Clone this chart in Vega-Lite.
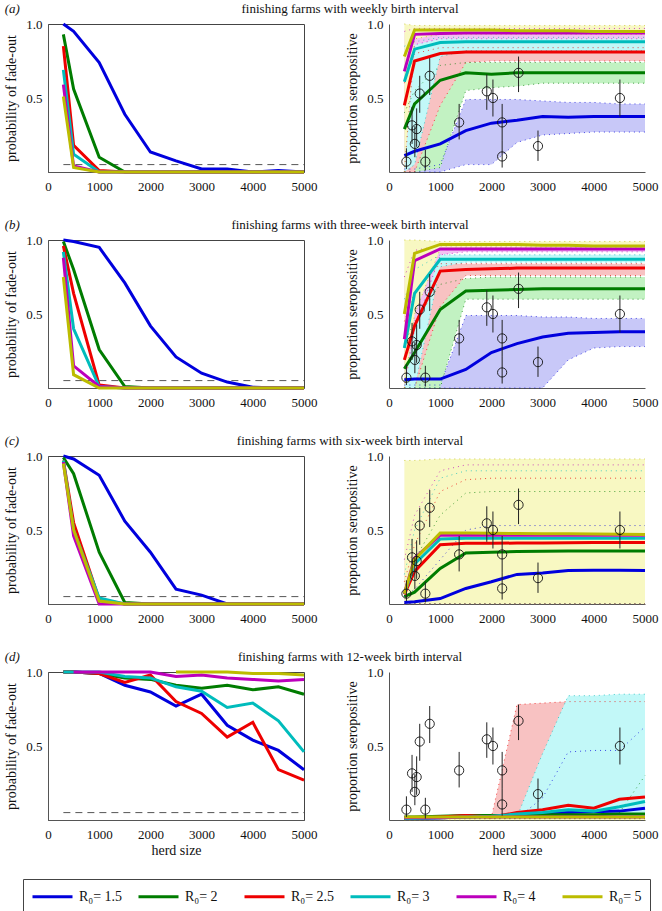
{
"$schema": "https://vega.github.io/schema/vega-lite/v6.json",
"padding": {"left": 4, "top": 2, "right": 5, "bottom": 4},
"config": {
  "font": "Liberation Serif",
  "view": {"stroke": "#444", "strokeWidth": 1},
  "axis": {"labelFont": "Liberation Serif", "labelFontSize": 13, "labelColor": "#111", "titleFont": "Liberation Serif", "titleFontSize": 14, "titleFontWeight": "normal", "titleColor": "#111", "grid": false, "ticks": false, "domainColor": "#555", "labelFlush": false, "labelPadding": 6, "titlePadding": 7},
  "axisX": {"labelPadding": 8, "titlePadding": 2},
  "title": {"font": "Liberation Serif", "fontSize": 13, "fontWeight": "normal", "color": "#111", "offset": 2},
  "legend": {"orient": "none", "direction": "horizontal", "strokeColor": "#444", "padding": 8, "symbolType": "M-2.5,0L2.5,0", "symbolStrokeWidth": 3, "symbolSize": 256, "symbolOffset": 12, "labelFont": "Liberation Serif", "labelFontSize": 14, "labelColor": "#111", "columnPadding": 9, "gridAlign": "all", "labelOffset": 17}
},
"datasets": {
"obs": [
{"x":340,"y":0.07,"lo":0.02,"hi":0.16},
{"x":450,"y":0.315,"lo":0.19,"hi":0.44},
{"x":505,"y":0.19,"lo":0.1,"hi":0.31},
{"x":540,"y":0.29,"lo":0.17,"hi":0.43},
{"x":600,"y":0.53,"lo":0.4,"hi":0.65},
{"x":710,"y":0.07,"lo":0.01,"hi":0.15},
{"x":795,"y":0.65,"lo":0.52,"hi":0.77},
{"x":1370,"y":0.335,"lo":0.22,"hi":0.46},
{"x":1910,"y":0.545,"lo":0.42,"hi":0.66},
{"x":2030,"y":0.5,"lo":0.375,"hi":0.625},
{"x":2210,"y":0.335,"lo":0.21,"hi":0.46},
{"x":2210,"y":0.105,"lo":0.03,"hi":0.21},
{"x":2530,"y":0.67,"lo":0.54,"hi":0.78},
{"x":2910,"y":0.175,"lo":0.075,"hi":0.28},
{"x":4510,"y":0.5,"lo":0.375,"hi":0.625}
],
"fade": [
{"r":"a","k":"1.5","x":300,"y":1},{"r":"a","k":"1.5","x":500,"y":0.95},{"r":"a","k":"1.5","x":1000,"y":0.74},{"r":"a","k":"1.5","x":1500,"y":0.39},{"r":"a","k":"1.5","x":2000,"y":0.135},{"r":"a","k":"1.5","x":2500,"y":0.075},{"r":"a","k":"1.5","x":3000,"y":0.02},{"r":"a","k":"1.5","x":3500,"y":0.02},{"r":"a","k":"1.5","x":4000,"y":0},{"r":"a","k":"1.5","x":4500,"y":0.01},{"r":"a","k":"1.5","x":5000,"y":0},
{"r":"a","k":"2","x":300,"y":0.93},{"r":"a","k":"2","x":500,"y":0.56},{"r":"a","k":"2","x":1000,"y":0.1},{"r":"a","k":"2","x":1500,"y":0},{"r":"a","k":"2","x":2000,"y":0},{"r":"a","k":"2","x":2500,"y":0},{"r":"a","k":"2","x":3000,"y":0},{"r":"a","k":"2","x":3500,"y":0},{"r":"a","k":"2","x":4000,"y":0},{"r":"a","k":"2","x":4500,"y":0},{"r":"a","k":"2","x":5000,"y":0},
{"r":"a","k":"2.5","x":300,"y":0.85},{"r":"a","k":"2.5","x":500,"y":0.18},{"r":"a","k":"2.5","x":1000,"y":0.01},{"r":"a","k":"2.5","x":1500,"y":0},{"r":"a","k":"2.5","x":2000,"y":0},{"r":"a","k":"2.5","x":2500,"y":0},{"r":"a","k":"2.5","x":3000,"y":0},{"r":"a","k":"2.5","x":3500,"y":0},{"r":"a","k":"2.5","x":4000,"y":0},{"r":"a","k":"2.5","x":4500,"y":0},{"r":"a","k":"2.5","x":5000,"y":0},
{"r":"a","k":"3","x":300,"y":0.69},{"r":"a","k":"3","x":500,"y":0.12},{"r":"a","k":"3","x":1000,"y":0},{"r":"a","k":"3","x":1500,"y":0},{"r":"a","k":"3","x":2000,"y":0},{"r":"a","k":"3","x":2500,"y":0},{"r":"a","k":"3","x":3000,"y":0},{"r":"a","k":"3","x":3500,"y":0},{"r":"a","k":"3","x":4000,"y":0},{"r":"a","k":"3","x":4500,"y":0},{"r":"a","k":"3","x":5000,"y":0},
{"r":"a","k":"4","x":300,"y":0.59},{"r":"a","k":"4","x":500,"y":0.04},{"r":"a","k":"4","x":1000,"y":0},{"r":"a","k":"4","x":1500,"y":0},{"r":"a","k":"4","x":2000,"y":0},{"r":"a","k":"4","x":2500,"y":0},{"r":"a","k":"4","x":3000,"y":0},{"r":"a","k":"4","x":3500,"y":0},{"r":"a","k":"4","x":4000,"y":0},{"r":"a","k":"4","x":4500,"y":0},{"r":"a","k":"4","x":5000,"y":0},
{"r":"a","k":"5","x":300,"y":0.51},{"r":"a","k":"5","x":500,"y":0.03},{"r":"a","k":"5","x":1000,"y":0},{"r":"a","k":"5","x":1500,"y":0},{"r":"a","k":"5","x":2000,"y":0},{"r":"a","k":"5","x":2500,"y":0},{"r":"a","k":"5","x":3000,"y":0},{"r":"a","k":"5","x":3500,"y":0},{"r":"a","k":"5","x":4000,"y":0},{"r":"a","k":"5","x":4500,"y":0},{"r":"a","k":"5","x":5000,"y":0},
{"r":"b","k":"1.5","x":300,"y":1},{"r":"b","k":"1.5","x":500,"y":0.99},{"r":"b","k":"1.5","x":1000,"y":0.95},{"r":"b","k":"1.5","x":1500,"y":0.71},{"r":"b","k":"1.5","x":2000,"y":0.42},{"r":"b","k":"1.5","x":2500,"y":0.21},{"r":"b","k":"1.5","x":3000,"y":0.1},{"r":"b","k":"1.5","x":3500,"y":0.04},{"r":"b","k":"1.5","x":4000,"y":0.005},{"r":"b","k":"1.5","x":4500,"y":0},{"r":"b","k":"1.5","x":5000,"y":0},
{"r":"b","k":"2","x":300,"y":0.99},{"r":"b","k":"2","x":500,"y":0.8},{"r":"b","k":"2","x":1000,"y":0.26},{"r":"b","k":"2","x":1500,"y":0.01},{"r":"b","k":"2","x":2000,"y":0},{"r":"b","k":"2","x":2500,"y":0},{"r":"b","k":"2","x":3000,"y":0},{"r":"b","k":"2","x":3500,"y":0},{"r":"b","k":"2","x":4000,"y":0},{"r":"b","k":"2","x":4500,"y":0},{"r":"b","k":"2","x":5000,"y":0},
{"r":"b","k":"2.5","x":300,"y":0.96},{"r":"b","k":"2.5","x":500,"y":0.64},{"r":"b","k":"2.5","x":1000,"y":0.02},{"r":"b","k":"2.5","x":1500,"y":0},{"r":"b","k":"2.5","x":2000,"y":0},{"r":"b","k":"2.5","x":2500,"y":0},{"r":"b","k":"2.5","x":3000,"y":0},{"r":"b","k":"2.5","x":3500,"y":0},{"r":"b","k":"2.5","x":4000,"y":0},{"r":"b","k":"2.5","x":4500,"y":0},{"r":"b","k":"2.5","x":5000,"y":0},
{"r":"b","k":"3","x":300,"y":0.92},{"r":"b","k":"3","x":500,"y":0.4},{"r":"b","k":"3","x":1000,"y":0.01},{"r":"b","k":"3","x":1500,"y":0},{"r":"b","k":"3","x":2000,"y":0},{"r":"b","k":"3","x":2500,"y":0},{"r":"b","k":"3","x":3000,"y":0},{"r":"b","k":"3","x":3500,"y":0},{"r":"b","k":"3","x":4000,"y":0},{"r":"b","k":"3","x":4500,"y":0},{"r":"b","k":"3","x":5000,"y":0},
{"r":"b","k":"4","x":300,"y":0.88},{"r":"b","k":"4","x":500,"y":0.15},{"r":"b","k":"4","x":1000,"y":0.01},{"r":"b","k":"4","x":1500,"y":0},{"r":"b","k":"4","x":2000,"y":0},{"r":"b","k":"4","x":2500,"y":0},{"r":"b","k":"4","x":3000,"y":0},{"r":"b","k":"4","x":3500,"y":0},{"r":"b","k":"4","x":4000,"y":0},{"r":"b","k":"4","x":4500,"y":0},{"r":"b","k":"4","x":5000,"y":0},
{"r":"b","k":"5","x":300,"y":0.75},{"r":"b","k":"5","x":500,"y":0.09},{"r":"b","k":"5","x":1000,"y":0},{"r":"b","k":"5","x":1500,"y":0},{"r":"b","k":"5","x":2000,"y":0},{"r":"b","k":"5","x":2500,"y":0},{"r":"b","k":"5","x":3000,"y":0},{"r":"b","k":"5","x":3500,"y":0},{"r":"b","k":"5","x":4000,"y":0},{"r":"b","k":"5","x":4500,"y":0},{"r":"b","k":"5","x":5000,"y":0},
{"r":"c","k":"1.5","x":300,"y":1},{"r":"c","k":"1.5","x":500,"y":0.98},{"r":"c","k":"1.5","x":1000,"y":0.87},{"r":"c","k":"1.5","x":1500,"y":0.56},{"r":"c","k":"1.5","x":2000,"y":0.35},{"r":"c","k":"1.5","x":2500,"y":0.1},{"r":"c","k":"1.5","x":3000,"y":0.06},{"r":"c","k":"1.5","x":3500,"y":0},{"r":"c","k":"1.5","x":4000,"y":0},{"r":"c","k":"1.5","x":4500,"y":0},{"r":"c","k":"1.5","x":5000,"y":0},
{"r":"c","k":"2","x":300,"y":0.99},{"r":"c","k":"2","x":500,"y":0.88},{"r":"c","k":"2","x":1000,"y":0.35},{"r":"c","k":"2","x":1500,"y":0.01},{"r":"c","k":"2","x":2000,"y":0},{"r":"c","k":"2","x":2500,"y":0},{"r":"c","k":"2","x":3000,"y":0},{"r":"c","k":"2","x":3500,"y":0},{"r":"c","k":"2","x":4000,"y":0},{"r":"c","k":"2","x":4500,"y":0},{"r":"c","k":"2","x":5000,"y":0},
{"r":"c","k":"2.5","x":300,"y":0.97},{"r":"c","k":"2.5","x":500,"y":0.55},{"r":"c","k":"2.5","x":1000,"y":0.03},{"r":"c","k":"2.5","x":1500,"y":0},{"r":"c","k":"2.5","x":2000,"y":0},{"r":"c","k":"2.5","x":2500,"y":0},{"r":"c","k":"2.5","x":3000,"y":0},{"r":"c","k":"2.5","x":3500,"y":0},{"r":"c","k":"2.5","x":4000,"y":0},{"r":"c","k":"2.5","x":4500,"y":0},{"r":"c","k":"2.5","x":5000,"y":0},
{"r":"c","k":"3","x":300,"y":0.97},{"r":"c","k":"3","x":500,"y":0.5},{"r":"c","k":"3","x":1000,"y":0.04},{"r":"c","k":"3","x":1500,"y":0},{"r":"c","k":"3","x":2000,"y":0},{"r":"c","k":"3","x":2500,"y":0},{"r":"c","k":"3","x":3000,"y":0},{"r":"c","k":"3","x":3500,"y":0},{"r":"c","k":"3","x":4000,"y":0},{"r":"c","k":"3","x":4500,"y":0},{"r":"c","k":"3","x":5000,"y":0},
{"r":"c","k":"4","x":300,"y":0.96},{"r":"c","k":"4","x":500,"y":0.46},{"r":"c","k":"4","x":1000,"y":0},{"r":"c","k":"4","x":1500,"y":0},{"r":"c","k":"4","x":2000,"y":0},{"r":"c","k":"4","x":2500,"y":0},{"r":"c","k":"4","x":3000,"y":0},{"r":"c","k":"4","x":3500,"y":0},{"r":"c","k":"4","x":4000,"y":0},{"r":"c","k":"4","x":4500,"y":0},{"r":"c","k":"4","x":5000,"y":0},
{"r":"c","k":"5","x":300,"y":0.95},{"r":"c","k":"5","x":500,"y":0.5},{"r":"c","k":"5","x":1000,"y":0.02},{"r":"c","k":"5","x":1500,"y":0},{"r":"c","k":"5","x":2000,"y":0},{"r":"c","k":"5","x":2500,"y":0},{"r":"c","k":"5","x":3000,"y":0},{"r":"c","k":"5","x":3500,"y":0},{"r":"c","k":"5","x":4000,"y":0},{"r":"c","k":"5","x":4500,"y":0},{"r":"c","k":"5","x":5000,"y":0},
{"r":"d","k":"1.5","x":300,"y":1},{"r":"d","k":"1.5","x":500,"y":1},{"r":"d","k":"1.5","x":1000,"y":0.99},{"r":"d","k":"1.5","x":1500,"y":0.91},{"r":"d","k":"1.5","x":2000,"y":0.865},{"r":"d","k":"1.5","x":2500,"y":0.77},{"r":"d","k":"1.5","x":3000,"y":0.85},{"r":"d","k":"1.5","x":3500,"y":0.64},{"r":"d","k":"1.5","x":4000,"y":0.54},{"r":"d","k":"1.5","x":4500,"y":0.47},{"r":"d","k":"1.5","x":5000,"y":0.34},
{"r":"d","k":"2","x":300,"y":1},{"r":"d","k":"2","x":500,"y":1},{"r":"d","k":"2","x":1000,"y":0.99},{"r":"d","k":"2","x":1500,"y":0.96},{"r":"d","k":"2","x":2000,"y":0.95},{"r":"d","k":"2","x":2500,"y":0.91},{"r":"d","k":"2","x":3000,"y":0.89},{"r":"d","k":"2","x":3500,"y":0.91},{"r":"d","k":"2","x":4000,"y":0.88},{"r":"d","k":"2","x":4500,"y":0.9},{"r":"d","k":"2","x":5000,"y":0.85},
{"r":"d","k":"2.5","x":300,"y":1},{"r":"d","k":"2.5","x":500,"y":1},{"r":"d","k":"2.5","x":1000,"y":0.99},{"r":"d","k":"2.5","x":1500,"y":0.93},{"r":"d","k":"2.5","x":2000,"y":0.98},{"r":"d","k":"2.5","x":2500,"y":0.8},{"r":"d","k":"2.5","x":3000,"y":0.72},{"r":"d","k":"2.5","x":3500,"y":0.56},{"r":"d","k":"2.5","x":4000,"y":0.66},{"r":"d","k":"2.5","x":4500,"y":0.34},{"r":"d","k":"2.5","x":5000,"y":0.27},
{"r":"d","k":"3","x":300,"y":1},{"r":"d","k":"3","x":500,"y":1},{"r":"d","k":"3","x":1000,"y":1},{"r":"d","k":"3","x":1500,"y":0.97},{"r":"d","k":"3","x":2000,"y":0.96},{"r":"d","k":"3","x":2500,"y":0.9},{"r":"d","k":"3","x":3000,"y":0.87},{"r":"d","k":"3","x":3500,"y":0.76},{"r":"d","k":"3","x":4000,"y":0.79},{"r":"d","k":"3","x":4500,"y":0.67},{"r":"d","k":"3","x":5000,"y":0.46},
{"r":"d","k":"4","x":500,"y":1},{"r":"d","k":"4","x":1000,"y":1},{"r":"d","k":"4","x":1500,"y":1},{"r":"d","k":"4","x":2000,"y":1},{"r":"d","k":"4","x":2500,"y":0.97},{"r":"d","k":"4","x":3000,"y":0.98},{"r":"d","k":"4","x":3500,"y":0.96},{"r":"d","k":"4","x":4000,"y":0.95},{"r":"d","k":"4","x":4500,"y":0.94},{"r":"d","k":"4","x":5000,"y":0.95},
{"r":"d","k":"5","x":2500,"y":1},{"r":"d","k":"5","x":3000,"y":1},{"r":"d","k":"5","x":3500,"y":1},{"r":"d","k":"5","x":4000,"y":0.99},{"r":"d","k":"5","x":4500,"y":0.99},{"r":"d","k":"5","x":5000,"y":0.98}
],
"sero": [
{"r":"a","k":"1.5","x":300,"y":0.11},{"r":"a","k":"1.5","x":500,"y":0.14},{"r":"a","k":"1.5","x":1000,"y":0.19},{"r":"a","k":"1.5","x":1500,"y":0.28},{"r":"a","k":"1.5","x":2000,"y":0.33},{"r":"a","k":"1.5","x":2500,"y":0.35},{"r":"a","k":"1.5","x":3000,"y":0.375},{"r":"a","k":"1.5","x":3500,"y":0.37},{"r":"a","k":"1.5","x":4000,"y":0.375},{"r":"a","k":"1.5","x":4500,"y":0.375},{"r":"a","k":"1.5","x":5000,"y":0.375},
{"r":"a","k":"2","x":300,"y":0.29},{"r":"a","k":"2","x":500,"y":0.46},{"r":"a","k":"2","x":1000,"y":0.62},{"r":"a","k":"2","x":1500,"y":0.67},{"r":"a","k":"2","x":2000,"y":0.66},{"r":"a","k":"2","x":2500,"y":0.67},{"r":"a","k":"2","x":3000,"y":0.67},{"r":"a","k":"2","x":3500,"y":0.67},{"r":"a","k":"2","x":4000,"y":0.67},{"r":"a","k":"2","x":4500,"y":0.67},{"r":"a","k":"2","x":5000,"y":0.67},
{"r":"a","k":"2.5","x":300,"y":0.45},{"r":"a","k":"2.5","x":500,"y":0.75},{"r":"a","k":"2.5","x":1000,"y":0.8},{"r":"a","k":"2.5","x":1500,"y":0.81},{"r":"a","k":"2.5","x":2000,"y":0.81},{"r":"a","k":"2.5","x":2500,"y":0.81},{"r":"a","k":"2.5","x":3000,"y":0.81},{"r":"a","k":"2.5","x":3500,"y":0.81},{"r":"a","k":"2.5","x":4000,"y":0.81},{"r":"a","k":"2.5","x":4500,"y":0.81},{"r":"a","k":"2.5","x":5000,"y":0.81},
{"r":"a","k":"3","x":300,"y":0.61},{"r":"a","k":"3","x":500,"y":0.83},{"r":"a","k":"3","x":1000,"y":0.875},{"r":"a","k":"3","x":1500,"y":0.88},{"r":"a","k":"3","x":2000,"y":0.88},{"r":"a","k":"3","x":2500,"y":0.88},{"r":"a","k":"3","x":3000,"y":0.88},{"r":"a","k":"3","x":3500,"y":0.88},{"r":"a","k":"3","x":4000,"y":0.88},{"r":"a","k":"3","x":4500,"y":0.88},{"r":"a","k":"3","x":5000,"y":0.88},
{"r":"a","k":"4","x":300,"y":0.68},{"r":"a","k":"4","x":500,"y":0.93},{"r":"a","k":"4","x":1000,"y":0.935},{"r":"a","k":"4","x":1500,"y":0.94},{"r":"a","k":"4","x":2000,"y":0.94},{"r":"a","k":"4","x":2500,"y":0.94},{"r":"a","k":"4","x":3000,"y":0.94},{"r":"a","k":"4","x":3500,"y":0.94},{"r":"a","k":"4","x":4000,"y":0.94},{"r":"a","k":"4","x":4500,"y":0.94},{"r":"a","k":"4","x":5000,"y":0.94},
{"r":"a","k":"5","x":300,"y":0.78},{"r":"a","k":"5","x":500,"y":0.96},{"r":"a","k":"5","x":1000,"y":0.96},{"r":"a","k":"5","x":1500,"y":0.96},{"r":"a","k":"5","x":2000,"y":0.96},{"r":"a","k":"5","x":2500,"y":0.955},{"r":"a","k":"5","x":3000,"y":0.955},{"r":"a","k":"5","x":3500,"y":0.955},{"r":"a","k":"5","x":4000,"y":0.95},{"r":"a","k":"5","x":4500,"y":0.95},{"r":"a","k":"5","x":5000,"y":0.95},
{"r":"b","k":"1.5","x":300,"y":0.055},{"r":"b","k":"1.5","x":500,"y":0.06},{"r":"b","k":"1.5","x":1000,"y":0.06},{"r":"b","k":"1.5","x":1500,"y":0.125},{"r":"b","k":"1.5","x":2000,"y":0.24},{"r":"b","k":"1.5","x":2500,"y":0.3},{"r":"b","k":"1.5","x":3000,"y":0.345},{"r":"b","k":"1.5","x":3500,"y":0.37},{"r":"b","k":"1.5","x":4000,"y":0.375},{"r":"b","k":"1.5","x":4500,"y":0.38},{"r":"b","k":"1.5","x":5000,"y":0.38},
{"r":"b","k":"2","x":300,"y":0.13},{"r":"b","k":"2","x":500,"y":0.24},{"r":"b","k":"2","x":1000,"y":0.53},{"r":"b","k":"2","x":1500,"y":0.655},{"r":"b","k":"2","x":2000,"y":0.66},{"r":"b","k":"2","x":2500,"y":0.665},{"r":"b","k":"2","x":3000,"y":0.67},{"r":"b","k":"2","x":3500,"y":0.67},{"r":"b","k":"2","x":4000,"y":0.67},{"r":"b","k":"2","x":4500,"y":0.67},{"r":"b","k":"2","x":5000,"y":0.67},
{"r":"b","k":"2.5","x":300,"y":0.19},{"r":"b","k":"2.5","x":500,"y":0.42},{"r":"b","k":"2.5","x":1000,"y":0.79},{"r":"b","k":"2.5","x":1500,"y":0.8},{"r":"b","k":"2.5","x":2000,"y":0.805},{"r":"b","k":"2.5","x":2500,"y":0.81},{"r":"b","k":"2.5","x":3000,"y":0.81},{"r":"b","k":"2.5","x":3500,"y":0.81},{"r":"b","k":"2.5","x":4000,"y":0.81},{"r":"b","k":"2.5","x":4500,"y":0.81},{"r":"b","k":"2.5","x":5000,"y":0.81},
{"r":"b","k":"3","x":300,"y":0.27},{"r":"b","k":"3","x":500,"y":0.64},{"r":"b","k":"3","x":1000,"y":0.87},{"r":"b","k":"3","x":1500,"y":0.87},{"r":"b","k":"3","x":2000,"y":0.87},{"r":"b","k":"3","x":2500,"y":0.87},{"r":"b","k":"3","x":3000,"y":0.87},{"r":"b","k":"3","x":3500,"y":0.87},{"r":"b","k":"3","x":4000,"y":0.87},{"r":"b","k":"3","x":4500,"y":0.87},{"r":"b","k":"3","x":5000,"y":0.87},
{"r":"b","k":"4","x":300,"y":0.33},{"r":"b","k":"4","x":500,"y":0.86},{"r":"b","k":"4","x":1000,"y":0.94},{"r":"b","k":"4","x":1500,"y":0.94},{"r":"b","k":"4","x":2000,"y":0.94},{"r":"b","k":"4","x":2500,"y":0.94},{"r":"b","k":"4","x":3000,"y":0.94},{"r":"b","k":"4","x":3500,"y":0.94},{"r":"b","k":"4","x":4000,"y":0.94},{"r":"b","k":"4","x":4500,"y":0.94},{"r":"b","k":"4","x":5000,"y":0.94},
{"r":"b","k":"5","x":300,"y":0.5},{"r":"b","k":"5","x":500,"y":0.91},{"r":"b","k":"5","x":1000,"y":0.97},{"r":"b","k":"5","x":1500,"y":0.97},{"r":"b","k":"5","x":2000,"y":0.97},{"r":"b","k":"5","x":2500,"y":0.97},{"r":"b","k":"5","x":3000,"y":0.965},{"r":"b","k":"5","x":3500,"y":0.965},{"r":"b","k":"5","x":4000,"y":0.96},{"r":"b","k":"5","x":4500,"y":0.96},{"r":"b","k":"5","x":5000,"y":0.96},
{"r":"c","k":"1.5","x":300,"y":0.01},{"r":"c","k":"1.5","x":500,"y":0.015},{"r":"c","k":"1.5","x":1000,"y":0.037},{"r":"c","k":"1.5","x":1500,"y":0.105},{"r":"c","k":"1.5","x":2000,"y":0.15},{"r":"c","k":"1.5","x":2500,"y":0.2},{"r":"c","k":"1.5","x":3000,"y":0.21},{"r":"c","k":"1.5","x":3500,"y":0.227},{"r":"c","k":"1.5","x":4000,"y":0.228},{"r":"c","k":"1.5","x":4500,"y":0.228},{"r":"c","k":"1.5","x":5000,"y":0.227},
{"r":"c","k":"2","x":300,"y":0.05},{"r":"c","k":"2","x":500,"y":0.08},{"r":"c","k":"2","x":1000,"y":0.24},{"r":"c","k":"2","x":1500,"y":0.345},{"r":"c","k":"2","x":2000,"y":0.35},{"r":"c","k":"2","x":2500,"y":0.355},{"r":"c","k":"2","x":3000,"y":0.357},{"r":"c","k":"2","x":3500,"y":0.358},{"r":"c","k":"2","x":4000,"y":0.358},{"r":"c","k":"2","x":4500,"y":0.358},{"r":"c","k":"2","x":5000,"y":0.358},
{"r":"c","k":"2.5","x":300,"y":0.065},{"r":"c","k":"2.5","x":500,"y":0.22},{"r":"c","k":"2.5","x":1000,"y":0.4},{"r":"c","k":"2.5","x":1500,"y":0.41},{"r":"c","k":"2.5","x":2000,"y":0.41},{"r":"c","k":"2.5","x":2500,"y":0.412},{"r":"c","k":"2.5","x":3000,"y":0.413},{"r":"c","k":"2.5","x":3500,"y":0.414},{"r":"c","k":"2.5","x":4000,"y":0.415},{"r":"c","k":"2.5","x":4500,"y":0.415},{"r":"c","k":"2.5","x":5000,"y":0.415},
{"r":"c","k":"3","x":300,"y":0.07},{"r":"c","k":"3","x":500,"y":0.27},{"r":"c","k":"3","x":1000,"y":0.44},{"r":"c","k":"3","x":1500,"y":0.445},{"r":"c","k":"3","x":2000,"y":0.445},{"r":"c","k":"3","x":2500,"y":0.445},{"r":"c","k":"3","x":3000,"y":0.445},{"r":"c","k":"3","x":3500,"y":0.445},{"r":"c","k":"3","x":4000,"y":0.445},{"r":"c","k":"3","x":4500,"y":0.445},{"r":"c","k":"3","x":5000,"y":0.445},
{"r":"c","k":"4","x":300,"y":0.07},{"r":"c","k":"4","x":500,"y":0.31},{"r":"c","k":"4","x":1000,"y":0.465},{"r":"c","k":"4","x":1500,"y":0.465},{"r":"c","k":"4","x":2000,"y":0.465},{"r":"c","k":"4","x":2500,"y":0.465},{"r":"c","k":"4","x":3000,"y":0.465},{"r":"c","k":"4","x":3500,"y":0.465},{"r":"c","k":"4","x":4000,"y":0.465},{"r":"c","k":"4","x":4500,"y":0.465},{"r":"c","k":"4","x":5000,"y":0.465},
{"r":"c","k":"5","x":300,"y":0.07},{"r":"c","k":"5","x":500,"y":0.3},{"r":"c","k":"5","x":1000,"y":0.48},{"r":"c","k":"5","x":1500,"y":0.48},{"r":"c","k":"5","x":2000,"y":0.478},{"r":"c","k":"5","x":2500,"y":0.476},{"r":"c","k":"5","x":3000,"y":0.475},{"r":"c","k":"5","x":3500,"y":0.474},{"r":"c","k":"5","x":4000,"y":0.473},{"r":"c","k":"5","x":4500,"y":0.472},{"r":"c","k":"5","x":5000,"y":0.47},
{"r":"d","k":"1.5","x":300,"y":0.01},{"r":"d","k":"1.5","x":500,"y":0.01},{"r":"d","k":"1.5","x":1000,"y":0.015},{"r":"d","k":"1.5","x":1500,"y":0.02},{"r":"d","k":"1.5","x":2000,"y":0.025},{"r":"d","k":"1.5","x":2500,"y":0.03},{"r":"d","k":"1.5","x":3000,"y":0.04},{"r":"d","k":"1.5","x":3500,"y":0.05},{"r":"d","k":"1.5","x":4000,"y":0.055},{"r":"d","k":"1.5","x":4500,"y":0.06},{"r":"d","k":"1.5","x":5000,"y":0.08},
{"r":"d","k":"2","x":300,"y":0.02},{"r":"d","k":"2","x":500,"y":0.02},{"r":"d","k":"2","x":1000,"y":0.025},{"r":"d","k":"2","x":1500,"y":0.03},{"r":"d","k":"2","x":2000,"y":0.03},{"r":"d","k":"2","x":2500,"y":0.03},{"r":"d","k":"2","x":3000,"y":0.035},{"r":"d","k":"2","x":3500,"y":0.035},{"r":"d","k":"2","x":4000,"y":0.035},{"r":"d","k":"2","x":4500,"y":0.04},{"r":"d","k":"2","x":5000,"y":0.04},
{"r":"d","k":"2.5","x":300,"y":0.01},{"r":"d","k":"2.5","x":500,"y":0.01},{"r":"d","k":"2.5","x":1000,"y":0.02},{"r":"d","k":"2.5","x":1500,"y":0.03},{"r":"d","k":"2.5","x":2000,"y":0.02},{"r":"d","k":"2.5","x":2500,"y":0.05},{"r":"d","k":"2.5","x":3000,"y":0.07},{"r":"d","k":"2.5","x":3500,"y":0.1},{"r":"d","k":"2.5","x":4000,"y":0.08},{"r":"d","k":"2.5","x":4500,"y":0.14},{"r":"d","k":"2.5","x":5000,"y":0.155},
{"r":"d","k":"3","x":300,"y":0.01},{"r":"d","k":"3","x":500,"y":0.01},{"r":"d","k":"3","x":1000,"y":0.015},{"r":"d","k":"3","x":1500,"y":0.02},{"r":"d","k":"3","x":2000,"y":0.025},{"r":"d","k":"3","x":2500,"y":0.04},{"r":"d","k":"3","x":3000,"y":0.05},{"r":"d","k":"3","x":3500,"y":0.07},{"r":"d","k":"3","x":4000,"y":0.06},{"r":"d","k":"3","x":4500,"y":0.09},{"r":"d","k":"3","x":5000,"y":0.125},
{"r":"d","k":"4","x":300,"y":0.015},{"r":"d","k":"4","x":500,"y":0.015},{"r":"d","k":"4","x":1000,"y":0.015},{"r":"d","k":"4","x":1500,"y":0.02},{"r":"d","k":"4","x":2000,"y":0.02},{"r":"d","k":"4","x":2500,"y":0.02},{"r":"d","k":"4","x":3000,"y":0.02},{"r":"d","k":"4","x":3500,"y":0.02},{"r":"d","k":"4","x":4000,"y":0.02},{"r":"d","k":"4","x":4500,"y":0.02},{"r":"d","k":"4","x":5000,"y":0.02},
{"r":"d","k":"5","x":300,"y":0.02},{"r":"d","k":"5","x":500,"y":0.02},{"r":"d","k":"5","x":1000,"y":0.02},{"r":"d","k":"5","x":1500,"y":0.02},{"r":"d","k":"5","x":2000,"y":0.02},{"r":"d","k":"5","x":2500,"y":0.02},{"r":"d","k":"5","x":3000,"y":0.02},{"r":"d","k":"5","x":3500,"y":0.02},{"r":"d","k":"5","x":4000,"y":0.02},{"r":"d","k":"5","x":4500,"y":0.02},{"r":"d","k":"5","x":5000,"y":0.02}
],
"band": [
{"r":"a","k":"1.5","x":300,"lo":0,"hi":0.02},{"r":"a","k":"1.5","x":500,"lo":0,"hi":0.02},{"r":"a","k":"1.5","x":1000,"lo":0,"hi":0.05},{"r":"a","k":"1.5","x":1500,"lo":0.05,"hi":0.49},{"r":"a","k":"1.5","x":2000,"lo":0.05,"hi":0.49},{"r":"a","k":"1.5","x":2500,"lo":0.2,"hi":0.49},{"r":"a","k":"1.5","x":3000,"lo":0.25,"hi":0.48},{"r":"a","k":"1.5","x":3500,"lo":0.26,"hi":0.47},{"r":"a","k":"1.5","x":4000,"lo":0.27,"hi":0.47},{"r":"a","k":"1.5","x":4500,"lo":0.27,"hi":0.46},{"r":"a","k":"1.5","x":5000,"lo":0.27,"hi":0.46},
{"r":"a","k":"2","x":300,"lo":0,"hi":0.4},{"r":"a","k":"2","x":500,"lo":0,"hi":0.55},{"r":"a","k":"2","x":1000,"lo":0.03,"hi":0.72},{"r":"a","k":"2","x":1500,"lo":0.55,"hi":0.74},{"r":"a","k":"2","x":2000,"lo":0.57,"hi":0.74},{"r":"a","k":"2","x":2500,"lo":0.58,"hi":0.74},{"r":"a","k":"2","x":3000,"lo":0.6,"hi":0.74},{"r":"a","k":"2","x":3500,"lo":0.6,"hi":0.74},{"r":"a","k":"2","x":4000,"lo":0.6,"hi":0.74},{"r":"a","k":"2","x":4500,"lo":0.6,"hi":0.74},{"r":"a","k":"2","x":5000,"lo":0.6,"hi":0.74},
{"r":"a","k":"2.5","x":300,"lo":0,"hi":0.6},{"r":"a","k":"2.5","x":500,"lo":0,"hi":0.8},{"r":"a","k":"2.5","x":1000,"lo":0.45,"hi":0.84},{"r":"a","k":"2.5","x":1500,"lo":0.74,"hi":0.84},{"r":"a","k":"2.5","x":2000,"lo":0.75,"hi":0.84},{"r":"a","k":"2.5","x":2500,"lo":0.75,"hi":0.84},{"r":"a","k":"2.5","x":3000,"lo":0.75,"hi":0.84},{"r":"a","k":"2.5","x":3500,"lo":0.75,"hi":0.84},{"r":"a","k":"2.5","x":4000,"lo":0.75,"hi":0.84},{"r":"a","k":"2.5","x":4500,"lo":0.75,"hi":0.84},{"r":"a","k":"2.5","x":5000,"lo":0.75,"hi":0.84},
{"r":"a","k":"3","x":300,"lo":0,"hi":0.85},{"r":"a","k":"3","x":500,"lo":0.05,"hi":0.88},{"r":"a","k":"3","x":1000,"lo":0.78,"hi":0.91},{"r":"a","k":"3","x":1500,"lo":0.82,"hi":0.91},{"r":"a","k":"3","x":2000,"lo":0.82,"hi":0.91},{"r":"a","k":"3","x":2500,"lo":0.82,"hi":0.91},{"r":"a","k":"3","x":3000,"lo":0.82,"hi":0.91},{"r":"a","k":"3","x":3500,"lo":0.82,"hi":0.91},{"r":"a","k":"3","x":4000,"lo":0.82,"hi":0.91},{"r":"a","k":"3","x":4500,"lo":0.82,"hi":0.91},{"r":"a","k":"3","x":5000,"lo":0.82,"hi":0.91},
{"r":"a","k":"4","x":300,"lo":0,"hi":0.95},{"r":"a","k":"4","x":500,"lo":0.86,"hi":0.97},{"r":"a","k":"4","x":1000,"lo":0.9,"hi":0.97},{"r":"a","k":"4","x":1500,"lo":0.9,"hi":0.97},{"r":"a","k":"4","x":2000,"lo":0.9,"hi":0.97},{"r":"a","k":"4","x":2500,"lo":0.9,"hi":0.97},{"r":"a","k":"4","x":3000,"lo":0.9,"hi":0.97},{"r":"a","k":"4","x":3500,"lo":0.9,"hi":0.97},{"r":"a","k":"4","x":4000,"lo":0.9,"hi":0.97},{"r":"a","k":"4","x":4500,"lo":0.9,"hi":0.97},{"r":"a","k":"4","x":5000,"lo":0.9,"hi":0.97},
{"r":"a","k":"5","x":300,"lo":0,"hi":1},{"r":"a","k":"5","x":500,"lo":0.9,"hi":0.99},{"r":"a","k":"5","x":1000,"lo":0.93,"hi":0.99},{"r":"a","k":"5","x":1500,"lo":0.93,"hi":0.99},{"r":"a","k":"5","x":2000,"lo":0.93,"hi":0.99},{"r":"a","k":"5","x":2500,"lo":0.93,"hi":0.99},{"r":"a","k":"5","x":3000,"lo":0.93,"hi":0.99},{"r":"a","k":"5","x":3500,"lo":0.93,"hi":0.99},{"r":"a","k":"5","x":4000,"lo":0.93,"hi":0.99},{"r":"a","k":"5","x":4500,"lo":0.93,"hi":0.99},{"r":"a","k":"5","x":5000,"lo":0.93,"hi":0.99},
{"r":"b","k":"1.5","x":300,"lo":0,"hi":0.02},{"r":"b","k":"1.5","x":500,"lo":0,"hi":0.02},{"r":"b","k":"1.5","x":1000,"lo":0,"hi":0.02},{"r":"b","k":"1.5","x":1500,"lo":0,"hi":0.49},{"r":"b","k":"1.5","x":2000,"lo":0,"hi":0.49},{"r":"b","k":"1.5","x":2500,"lo":0,"hi":0.49},{"r":"b","k":"1.5","x":3000,"lo":0,"hi":0.48},{"r":"b","k":"1.5","x":3500,"lo":0.19,"hi":0.48},{"r":"b","k":"1.5","x":4000,"lo":0.27,"hi":0.47},{"r":"b","k":"1.5","x":4500,"lo":0.28,"hi":0.47},{"r":"b","k":"1.5","x":5000,"lo":0.28,"hi":0.47},
{"r":"b","k":"2","x":300,"lo":0,"hi":0.3},{"r":"b","k":"2","x":500,"lo":0,"hi":0.45},{"r":"b","k":"2","x":1000,"lo":0,"hi":0.7},{"r":"b","k":"2","x":1500,"lo":0.6,"hi":0.74},{"r":"b","k":"2","x":2000,"lo":0.6,"hi":0.75},{"r":"b","k":"2","x":2500,"lo":0.6,"hi":0.75},{"r":"b","k":"2","x":3000,"lo":0.6,"hi":0.75},{"r":"b","k":"2","x":3500,"lo":0.6,"hi":0.75},{"r":"b","k":"2","x":4000,"lo":0.6,"hi":0.75},{"r":"b","k":"2","x":4500,"lo":0.6,"hi":0.75},{"r":"b","k":"2","x":5000,"lo":0.6,"hi":0.75},
{"r":"b","k":"2.5","x":300,"lo":0,"hi":0.45},{"r":"b","k":"2.5","x":500,"lo":0,"hi":0.65},{"r":"b","k":"2.5","x":1000,"lo":0.55,"hi":0.84},{"r":"b","k":"2.5","x":1500,"lo":0.76,"hi":0.84},{"r":"b","k":"2.5","x":2000,"lo":0.76,"hi":0.84},{"r":"b","k":"2.5","x":2500,"lo":0.76,"hi":0.84},{"r":"b","k":"2.5","x":3000,"lo":0.76,"hi":0.84},{"r":"b","k":"2.5","x":3500,"lo":0.76,"hi":0.84},{"r":"b","k":"2.5","x":4000,"lo":0.76,"hi":0.84},{"r":"b","k":"2.5","x":4500,"lo":0.76,"hi":0.84},{"r":"b","k":"2.5","x":5000,"lo":0.76,"hi":0.84},
{"r":"b","k":"3","x":300,"lo":0,"hi":0.6},{"r":"b","k":"3","x":500,"lo":0,"hi":0.8},{"r":"b","k":"3","x":1000,"lo":0.82,"hi":0.9},{"r":"b","k":"3","x":1500,"lo":0.85,"hi":0.9},{"r":"b","k":"3","x":2000,"lo":0.85,"hi":0.9},{"r":"b","k":"3","x":2500,"lo":0.85,"hi":0.9},{"r":"b","k":"3","x":3000,"lo":0.85,"hi":0.9},{"r":"b","k":"3","x":3500,"lo":0.85,"hi":0.9},{"r":"b","k":"3","x":4000,"lo":0.85,"hi":0.9},{"r":"b","k":"3","x":4500,"lo":0.85,"hi":0.9},{"r":"b","k":"3","x":5000,"lo":0.85,"hi":0.9},
{"r":"b","k":"4","x":300,"lo":0,"hi":0.75},{"r":"b","k":"4","x":500,"lo":0.4,"hi":0.93},{"r":"b","k":"4","x":1000,"lo":0.9,"hi":0.96},{"r":"b","k":"4","x":1500,"lo":0.92,"hi":0.96},{"r":"b","k":"4","x":2000,"lo":0.92,"hi":0.96},{"r":"b","k":"4","x":2500,"lo":0.92,"hi":0.96},{"r":"b","k":"4","x":3000,"lo":0.92,"hi":0.96},{"r":"b","k":"4","x":3500,"lo":0.92,"hi":0.96},{"r":"b","k":"4","x":4000,"lo":0.92,"hi":0.96},{"r":"b","k":"4","x":4500,"lo":0.92,"hi":0.96},{"r":"b","k":"4","x":5000,"lo":0.92,"hi":0.96},
{"r":"b","k":"5","x":300,"lo":0,"hi":1},{"r":"b","k":"5","x":500,"lo":0.5,"hi":1},{"r":"b","k":"5","x":1000,"lo":0.94,"hi":0.99},{"r":"b","k":"5","x":1500,"lo":0.95,"hi":0.99},{"r":"b","k":"5","x":2000,"lo":0.95,"hi":0.99},{"r":"b","k":"5","x":2500,"lo":0.95,"hi":0.99},{"r":"b","k":"5","x":3000,"lo":0.95,"hi":0.99},{"r":"b","k":"5","x":3500,"lo":0.95,"hi":0.99},{"r":"b","k":"5","x":4000,"lo":0.95,"hi":0.99},{"r":"b","k":"5","x":4500,"lo":0.95,"hi":0.99},{"r":"b","k":"5","x":5000,"lo":0.95,"hi":0.99},
{"r":"c","k":"1.5","x":300,"lo":0,"hi":0.05},{"r":"c","k":"1.5","x":500,"lo":0,"hi":0.1},{"r":"c","k":"1.5","x":1000,"lo":0,"hi":0.3},{"r":"c","k":"1.5","x":1500,"lo":0,"hi":0.5},{"r":"c","k":"1.5","x":2000,"lo":0,"hi":0.53},{"r":"c","k":"1.5","x":2500,"lo":0,"hi":0.53},{"r":"c","k":"1.5","x":3000,"lo":0,"hi":0.53},{"r":"c","k":"1.5","x":3500,"lo":0,"hi":0.53},{"r":"c","k":"1.5","x":4000,"lo":0,"hi":0.53},{"r":"c","k":"1.5","x":4500,"lo":0,"hi":0.53},{"r":"c","k":"1.5","x":5000,"lo":0,"hi":0.53},
{"r":"c","k":"2","x":300,"lo":0,"hi":0.1},{"r":"c","k":"2","x":500,"lo":0,"hi":0.3},{"r":"c","k":"2","x":1000,"lo":0,"hi":0.6},{"r":"c","k":"2","x":1500,"lo":0,"hi":0.75},{"r":"c","k":"2","x":2000,"lo":0,"hi":0.76},{"r":"c","k":"2","x":2500,"lo":0,"hi":0.76},{"r":"c","k":"2","x":3000,"lo":0,"hi":0.76},{"r":"c","k":"2","x":3500,"lo":0,"hi":0.76},{"r":"c","k":"2","x":4000,"lo":0,"hi":0.76},{"r":"c","k":"2","x":4500,"lo":0,"hi":0.76},{"r":"c","k":"2","x":5000,"lo":0,"hi":0.76},
{"r":"c","k":"2.5","x":300,"lo":0,"hi":0.15},{"r":"c","k":"2.5","x":500,"lo":0,"hi":0.4},{"r":"c","k":"2.5","x":1000,"lo":0,"hi":0.76},{"r":"c","k":"2.5","x":1500,"lo":0,"hi":0.84},{"r":"c","k":"2.5","x":2000,"lo":0,"hi":0.85},{"r":"c","k":"2.5","x":2500,"lo":0,"hi":0.85},{"r":"c","k":"2.5","x":3000,"lo":0,"hi":0.85},{"r":"c","k":"2.5","x":3500,"lo":0,"hi":0.85},{"r":"c","k":"2.5","x":4000,"lo":0,"hi":0.85},{"r":"c","k":"2.5","x":4500,"lo":0,"hi":0.85},{"r":"c","k":"2.5","x":5000,"lo":0,"hi":0.85},
{"r":"c","k":"3","x":300,"lo":0,"hi":0.2},{"r":"c","k":"3","x":500,"lo":0,"hi":0.5},{"r":"c","k":"3","x":1000,"lo":0,"hi":0.85},{"r":"c","k":"3","x":1500,"lo":0,"hi":0.9},{"r":"c","k":"3","x":2000,"lo":0,"hi":0.9},{"r":"c","k":"3","x":2500,"lo":0,"hi":0.9},{"r":"c","k":"3","x":3000,"lo":0,"hi":0.9},{"r":"c","k":"3","x":3500,"lo":0,"hi":0.9},{"r":"c","k":"3","x":4000,"lo":0,"hi":0.9},{"r":"c","k":"3","x":4500,"lo":0,"hi":0.9},{"r":"c","k":"3","x":5000,"lo":0,"hi":0.9},
{"r":"c","k":"4","x":300,"lo":0,"hi":0.3},{"r":"c","k":"4","x":500,"lo":0,"hi":0.6},{"r":"c","k":"4","x":1000,"lo":0,"hi":0.9},{"r":"c","k":"4","x":1500,"lo":0,"hi":0.94},{"r":"c","k":"4","x":2000,"lo":0,"hi":0.94},{"r":"c","k":"4","x":2500,"lo":0,"hi":0.94},{"r":"c","k":"4","x":3000,"lo":0,"hi":0.94},{"r":"c","k":"4","x":3500,"lo":0,"hi":0.94},{"r":"c","k":"4","x":4000,"lo":0,"hi":0.94},{"r":"c","k":"4","x":4500,"lo":0,"hi":0.94},{"r":"c","k":"4","x":5000,"lo":0,"hi":0.94},
{"r":"c","k":"5","x":300,"lo":0,"hi":0.97},{"r":"c","k":"5","x":500,"lo":0,"hi":0.97},{"r":"c","k":"5","x":1000,"lo":0,"hi":0.98},{"r":"c","k":"5","x":1500,"lo":0,"hi":0.98},{"r":"c","k":"5","x":2000,"lo":0,"hi":0.98},{"r":"c","k":"5","x":2500,"lo":0,"hi":0.98},{"r":"c","k":"5","x":3000,"lo":0,"hi":0.98},{"r":"c","k":"5","x":3500,"lo":0,"hi":0.98},{"r":"c","k":"5","x":4000,"lo":0,"hi":0.98},{"r":"c","k":"5","x":4500,"lo":0,"hi":0.98},{"r":"c","k":"5","x":5000,"lo":0,"hi":0.98},
{"r":"d","k":"1.5","x":300,"lo":0.01,"hi":0.01},{"r":"d","k":"1.5","x":2500,"lo":0.01,"hi":0.01},{"r":"d","k":"1.5","x":3000,"lo":0.01,"hi":0.15},{"r":"d","k":"1.5","x":3500,"lo":0.01,"hi":0.46},{"r":"d","k":"1.5","x":4000,"lo":0.01,"hi":0.47},{"r":"d","k":"1.5","x":4500,"lo":0.01,"hi":0.47},{"r":"d","k":"1.5","x":5000,"lo":0.01,"hi":0.63},
{"r":"d","k":"2","x":300,"lo":0.01,"hi":0.02},{"r":"d","k":"2","x":4000,"lo":0.01,"hi":0.02},{"r":"d","k":"2","x":4500,"lo":0.01,"hi":0.05},{"r":"d","k":"2","x":5000,"lo":0.01,"hi":0.3},
{"r":"d","k":"2.5","x":300,"lo":0.02,"hi":0.02},{"r":"d","k":"2.5","x":2000,"lo":0.02,"hi":0.02},{"r":"d","k":"2.5","x":2500,"lo":0.02,"hi":0.78},{"r":"d","k":"2.5","x":3000,"lo":0.02,"hi":0.79},{"r":"d","k":"2.5","x":3500,"lo":0.02,"hi":0.8},{"r":"d","k":"2.5","x":4000,"lo":0.02,"hi":0.8},{"r":"d","k":"2.5","x":4500,"lo":0.02,"hi":0.8},{"r":"d","k":"2.5","x":5000,"lo":0.02,"hi":0.8},
{"r":"d","k":"3","x":300,"lo":0.02,"hi":0.02},{"r":"d","k":"3","x":2500,"lo":0.02,"hi":0.02},{"r":"d","k":"3","x":3000,"lo":0.02,"hi":0.45},{"r":"d","k":"3","x":3500,"lo":0.02,"hi":0.84},{"r":"d","k":"3","x":4000,"lo":0.02,"hi":0.84},{"r":"d","k":"3","x":4500,"lo":0.02,"hi":0.85},{"r":"d","k":"3","x":5000,"lo":0.02,"hi":0.85},
{"r":"d","k":"5","x":300,"lo":0,"hi":0.02},{"r":"d","k":"5","x":5000,"lo":0,"hi":0.02}
]
},
"resolve": {"scale": {"stroke": "shared", "fill": "shared"}},
"bounds": "flush",
"columns": 2,
"spacing": {"row": 68, "column": 85},
"concat": [
 {"width":256,"height":148,"title":{"text":"(a)","anchor":"start","frame":"bounds","fontStyle":"italic"},
  "layer":[
   {"data":{"values":[{}]},"mark":{"type":"rule","strokeDash":[7,5],"color":"#555","strokeWidth":1},
    "encoding":{"x":{"datum":300,"type":"quantitative","scale":{"domain":[0,5000],"nice":false},"axis":{"values":[0,1000,2000,3000,4000,5000],"format":"d","title":null}},"x2":{"datum":5000},"y":{"datum":0.05,"type":"quantitative","scale":{"domain":[0,1],"nice":false},"axis":{"values":[0.5,1],"format":".1f","title":"probability of fade-out"}}}},
   {"data":{"name":"fade"},"transform":[{"filter":"datum.r == 'a'"}],"mark":{"type":"line","strokeWidth":3},
    "encoding":{"x":{"field":"x","type":"quantitative","axis":{"values":[0,1000,2000,3000,4000,5000],"format":"d","title":null}},"y":{"field":"y","type":"quantitative","axis":{"values":[0.5,1],"format":".1f","title":"probability of fade-out"}},
     "stroke":{"field":"k","type":"nominal","scale":{"domain":["1.5","2","2.5","3","4","5"],"range":["#0000dd","#007c00","#ee0000","#00bcbc","#bc00bc","#bcbc00"]},"legend":{"title":null,"labelExpr":"'R₀= ' + datum.label","legendX":-25,"legendY":855}}}}
  ]},
 {"width":256,"height":148,"view":{"stroke":null},"title":{"text":"finishing farms with weekly birth interval","anchor":"middle","frame":"group","dx":-167},
  "encoding":{"x":{"field":"x","type":"quantitative","scale":{"domain":[0,5000],"nice":false},"axis":{"values":[0,1000,2000,3000,4000,5000],"format":"d","title":null}}},
  "layer":[
   {"data":{"name":"band"},"transform":[{"filter":"datum.r == 'a'"}],"mark":{"type":"area","opacity":1},
    "encoding":{"y":{"field":"lo","type":"quantitative","scale":{"domain":[0,1],"nice":false},"axis":{"values":[0.5,1],"format":".1f","title":"proportion seropositive"}},"y2":{"field":"hi"},"fill":{"field":"k","type":"nominal","scale":{"domain":["1.5","2","2.5","3","4","5"],"range":["#c8c8f8","#c2f2c2","#f8c2c2","#c2f8f8","#f2c2f2","#f8f8c2"]},"legend":null}}},
   {"data":{"name":"band"},"transform":[{"filter":"datum.r == 'a'"}],"mark":{"type":"line","strokeDash":[1,4],"strokeWidth":1,"opacity":0.7},
    "encoding":{"y":{"field":"lo","type":"quantitative"},"stroke":{"field":"k","type":"nominal","legend":null}}},
   {"data":{"name":"band"},"transform":[{"filter":"datum.r == 'a'"}],"mark":{"type":"line","strokeDash":[1,4],"strokeWidth":1,"opacity":0.7},
    "encoding":{"y":{"field":"hi","type":"quantitative"},"stroke":{"field":"k","type":"nominal","legend":null}}},
   {"data":{"name":"sero"},"transform":[{"filter":"datum.r == 'a'"}],"mark":{"type":"line","strokeWidth":3},
    "encoding":{"y":{"field":"y","type":"quantitative"},"stroke":{"field":"k","type":"nominal","legend":{"title":null,"labelExpr":"'R₀= ' + datum.label","legendX":-25,"legendY":855}}}},
   {"data":{"name":"obs"},"mark":{"type":"rule","color":"#222","strokeWidth":1},
    "encoding":{"y":{"field":"lo","type":"quantitative"},"y2":{"field":"hi"}}},
   {"data":{"name":"obs"},"mark":{"type":"point","shape":"circle","filled":false,"color":"#111","size":85,"strokeWidth":0.9,"opacity":1},
    "encoding":{"y":{"field":"y","type":"quantitative"}}}
  ]},
 {"width":256,"height":148,"title":{"text":"(b)","anchor":"start","frame":"bounds","fontStyle":"italic"},
  "layer":[
   {"data":{"values":[{}]},"mark":{"type":"rule","strokeDash":[7,5],"color":"#555","strokeWidth":1},
    "encoding":{"x":{"datum":300,"type":"quantitative","scale":{"domain":[0,5000],"nice":false},"axis":{"values":[0,1000,2000,3000,4000,5000],"format":"d","title":null}},"x2":{"datum":5000},"y":{"datum":0.05,"type":"quantitative","scale":{"domain":[0,1],"nice":false},"axis":{"values":[0.5,1],"format":".1f","title":"probability of fade-out"}}}},
   {"data":{"name":"fade"},"transform":[{"filter":"datum.r == 'b'"}],"mark":{"type":"line","strokeWidth":3},
    "encoding":{"x":{"field":"x","type":"quantitative","axis":{"values":[0,1000,2000,3000,4000,5000],"format":"d","title":null}},"y":{"field":"y","type":"quantitative","axis":{"values":[0.5,1],"format":".1f","title":"probability of fade-out"}},
     "stroke":{"field":"k","type":"nominal","legend":{"title":null,"labelExpr":"'R₀= ' + datum.label","legendX":-25,"legendY":855}}}}
  ]},
 {"width":256,"height":148,"view":{"stroke":null},"title":{"text":"finishing farms with three-week birth interval","anchor":"middle","frame":"group","dx":-167},
  "encoding":{"x":{"field":"x","type":"quantitative","scale":{"domain":[0,5000],"nice":false},"axis":{"values":[0,1000,2000,3000,4000,5000],"format":"d","title":null}}},
  "layer":[
   {"data":{"name":"band"},"transform":[{"filter":"datum.r == 'b'"}],"mark":{"type":"area","opacity":1},
    "encoding":{"y":{"field":"lo","type":"quantitative","scale":{"domain":[0,1],"nice":false},"axis":{"values":[0.5,1],"format":".1f","title":"proportion seropositive"}},"y2":{"field":"hi"},"fill":{"field":"k","type":"nominal","legend":null}}},
   {"data":{"name":"band"},"transform":[{"filter":"datum.r == 'b'"}],"mark":{"type":"line","strokeDash":[1,4],"strokeWidth":1,"opacity":0.7},
    "encoding":{"y":{"field":"lo","type":"quantitative"},"stroke":{"field":"k","type":"nominal","legend":null}}},
   {"data":{"name":"band"},"transform":[{"filter":"datum.r == 'b'"}],"mark":{"type":"line","strokeDash":[1,4],"strokeWidth":1,"opacity":0.7},
    "encoding":{"y":{"field":"hi","type":"quantitative"},"stroke":{"field":"k","type":"nominal","legend":null}}},
   {"data":{"name":"sero"},"transform":[{"filter":"datum.r == 'b'"}],"mark":{"type":"line","strokeWidth":3},
    "encoding":{"y":{"field":"y","type":"quantitative"},"stroke":{"field":"k","type":"nominal","legend":{"title":null,"labelExpr":"'R₀= ' + datum.label","legendX":-25,"legendY":855}}}},
   {"data":{"name":"obs"},"mark":{"type":"rule","color":"#222","strokeWidth":1},
    "encoding":{"y":{"field":"lo","type":"quantitative"},"y2":{"field":"hi"}}},
   {"data":{"name":"obs"},"mark":{"type":"point","shape":"circle","filled":false,"color":"#111","size":85,"strokeWidth":0.9,"opacity":1},
    "encoding":{"y":{"field":"y","type":"quantitative"}}}
  ]},
 {"width":256,"height":148,"title":{"text":"(c)","anchor":"start","frame":"bounds","fontStyle":"italic"},
  "layer":[
   {"data":{"values":[{}]},"mark":{"type":"rule","strokeDash":[7,5],"color":"#555","strokeWidth":1},
    "encoding":{"x":{"datum":300,"type":"quantitative","scale":{"domain":[0,5000],"nice":false},"axis":{"values":[0,1000,2000,3000,4000,5000],"format":"d","title":null}},"x2":{"datum":5000},"y":{"datum":0.05,"type":"quantitative","scale":{"domain":[0,1],"nice":false},"axis":{"values":[0.5,1],"format":".1f","title":"probability of fade-out"}}}},
   {"data":{"name":"fade"},"transform":[{"filter":"datum.r == 'c'"}],"mark":{"type":"line","strokeWidth":3},
    "encoding":{"x":{"field":"x","type":"quantitative","axis":{"values":[0,1000,2000,3000,4000,5000],"format":"d","title":null}},"y":{"field":"y","type":"quantitative","axis":{"values":[0.5,1],"format":".1f","title":"probability of fade-out"}},
     "stroke":{"field":"k","type":"nominal","legend":{"title":null,"labelExpr":"'R₀= ' + datum.label","legendX":-25,"legendY":855}}}}
  ]},
 {"width":256,"height":148,"view":{"stroke":null},"title":{"text":"finishing farms with six-week birth interval","anchor":"middle","frame":"group","dx":-167},
  "encoding":{"x":{"field":"x","type":"quantitative","scale":{"domain":[0,5000],"nice":false},"axis":{"values":[0,1000,2000,3000,4000,5000],"format":"d","title":null}}},
  "layer":[
   {"data":{"name":"band"},"transform":[{"filter":"datum.r == 'c'"}],"mark":{"type":"area","opacity":1},
    "encoding":{"y":{"field":"lo","type":"quantitative","scale":{"domain":[0,1],"nice":false},"axis":{"values":[0.5,1],"format":".1f","title":"proportion seropositive"}},"y2":{"field":"hi"},"fill":{"field":"k","type":"nominal","legend":null}}},
   {"data":{"name":"band"},"transform":[{"filter":"datum.r == 'c'"}],"mark":{"type":"line","strokeDash":[1,4],"strokeWidth":1,"opacity":0.7},
    "encoding":{"y":{"field":"lo","type":"quantitative"},"stroke":{"field":"k","type":"nominal","legend":null}}},
   {"data":{"name":"band"},"transform":[{"filter":"datum.r == 'c'"}],"mark":{"type":"line","strokeDash":[1,4],"strokeWidth":1,"opacity":0.7},
    "encoding":{"y":{"field":"hi","type":"quantitative"},"stroke":{"field":"k","type":"nominal","legend":null}}},
   {"data":{"name":"sero"},"transform":[{"filter":"datum.r == 'c'"}],"mark":{"type":"line","strokeWidth":3},
    "encoding":{"y":{"field":"y","type":"quantitative"},"stroke":{"field":"k","type":"nominal","legend":{"title":null,"labelExpr":"'R₀= ' + datum.label","legendX":-25,"legendY":855}}}},
   {"data":{"name":"obs"},"mark":{"type":"rule","color":"#222","strokeWidth":1},
    "encoding":{"y":{"field":"lo","type":"quantitative"},"y2":{"field":"hi"}}},
   {"data":{"name":"obs"},"mark":{"type":"point","shape":"circle","filled":false,"color":"#111","size":85,"strokeWidth":0.9,"opacity":1},
    "encoding":{"y":{"field":"y","type":"quantitative"}}}
  ]},
 {"width":256,"height":148,"title":{"text":"(d)","anchor":"start","frame":"bounds","fontStyle":"italic"},
  "layer":[
   {"data":{"values":[{}]},"mark":{"type":"rule","strokeDash":[7,5],"color":"#555","strokeWidth":1},
    "encoding":{"x":{"datum":300,"type":"quantitative","scale":{"domain":[0,5000],"nice":false},"axis":{"values":[0,1000,2000,3000,4000,5000],"format":"d","title":"herd size"}},"x2":{"datum":5000},"y":{"datum":0.05,"type":"quantitative","scale":{"domain":[0,1],"nice":false},"axis":{"values":[0.5,1],"format":".1f","title":"probability of fade-out"}}}},
   {"data":{"name":"fade"},"transform":[{"filter":"datum.r == 'd'"}],"mark":{"type":"line","strokeWidth":3},
    "encoding":{"x":{"field":"x","type":"quantitative","axis":{"values":[0,1000,2000,3000,4000,5000],"format":"d","title":"herd size"}},"y":{"field":"y","type":"quantitative","axis":{"values":[0.5,1],"format":".1f","title":"probability of fade-out"}},
     "stroke":{"field":"k","type":"nominal","legend":{"title":null,"labelExpr":"'R₀= ' + datum.label","legendX":-25,"legendY":855}}}}
  ]},
 {"width":256,"height":148,"view":{"stroke":null},"title":{"text":"finishing farms with 12-week birth interval","anchor":"middle","frame":"group","dx":-167},
  "encoding":{"x":{"field":"x","type":"quantitative","scale":{"domain":[0,5000],"nice":false},"axis":{"values":[0,1000,2000,3000,4000,5000],"format":"d","title":"herd size"}}},
  "layer":[
   {"data":{"name":"band"},"transform":[{"filter":"datum.r == 'd'"}],"mark":{"type":"area","opacity":1},
    "encoding":{"y":{"field":"lo","type":"quantitative","scale":{"domain":[0,1],"nice":false},"axis":{"values":[0.5,1],"format":".1f","title":"proportion seropositive"}},"y2":{"field":"hi"},"fill":{"field":"k","type":"nominal","legend":null}}},
   {"data":{"name":"band"},"transform":[{"filter":"datum.r == 'd'"}],"mark":{"type":"line","strokeDash":[1,4],"strokeWidth":1,"opacity":0.7},
    "encoding":{"y":{"field":"lo","type":"quantitative"},"stroke":{"field":"k","type":"nominal","legend":null}}},
   {"data":{"name":"band"},"transform":[{"filter":"datum.r == 'd'"}],"mark":{"type":"line","strokeDash":[1,4],"strokeWidth":1,"opacity":0.7},
    "encoding":{"y":{"field":"hi","type":"quantitative"},"stroke":{"field":"k","type":"nominal","legend":null}}},
   {"data":{"name":"sero"},"transform":[{"filter":"datum.r == 'd'"}],"mark":{"type":"line","strokeWidth":3},
    "encoding":{"y":{"field":"y","type":"quantitative"},"stroke":{"field":"k","type":"nominal","legend":{"title":null,"labelExpr":"'R₀= ' + datum.label","legendX":-25,"legendY":855}}}},
   {"data":{"name":"obs"},"mark":{"type":"rule","color":"#222","strokeWidth":1},
    "encoding":{"y":{"field":"lo","type":"quantitative"},"y2":{"field":"hi"}}},
   {"data":{"name":"obs"},"mark":{"type":"point","shape":"circle","filled":false,"color":"#111","size":85,"strokeWidth":0.9,"opacity":1},
    "encoding":{"y":{"field":"y","type":"quantitative"}}}
  ]}
]
}
